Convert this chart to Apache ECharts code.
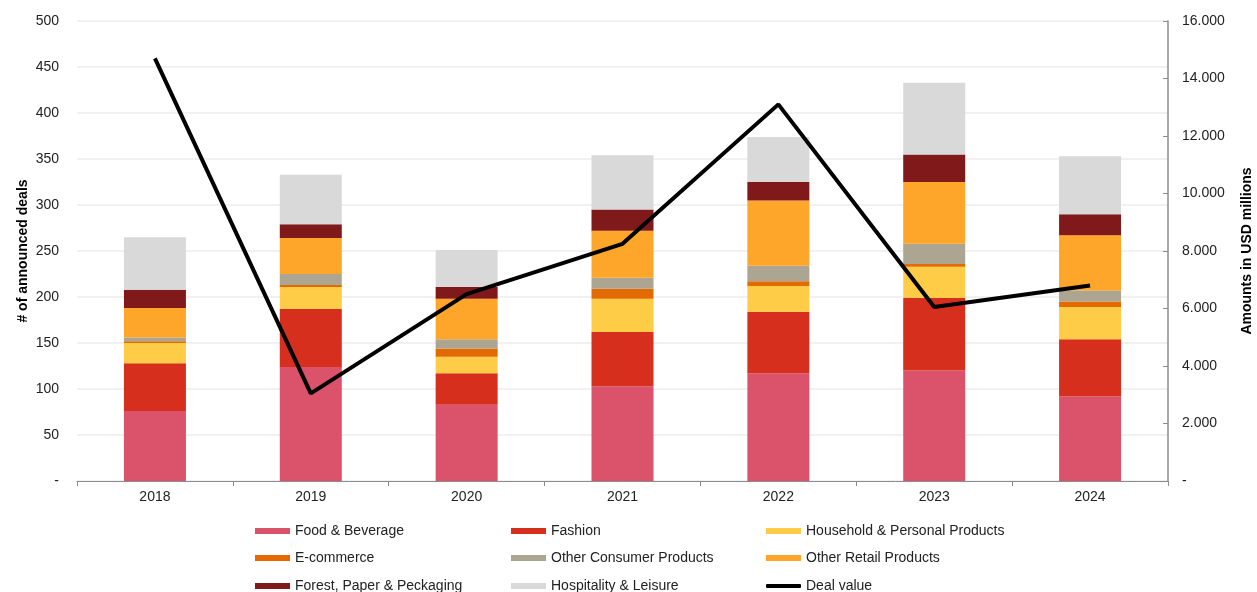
<!DOCTYPE html>
<html>
<head>
<meta charset="utf-8">
<script src="https://cdn.jsdelivr.net/npm/echarts@6/dist/echarts.min.js"></script>
<style>
html,body{margin:0;padding:0;background:#fff;}
#chart{width:1257px;height:592px;}
</style>
</head>
<body>
<div id="chart"></div>
<script>
const years = ['2018','2019','2020','2021','2022','2023','2024'];
const foodBeverage   = [76, 124, 83, 103, 117, 120, 92];
const fashion        = [52, 63, 34, 59, 67, 79, 62];
const household      = [22, 24, 18, 36, 28, 34, 35];
const ecommerce      = [2, 2, 9, 11, 5, 3, 6];
const otherConsumer  = [4, 12, 10, 12, 17, 22, 12];
const otherRetail    = [32, 39, 44, 51, 71, 67, 60];
const forestPaper    = [20, 15, 13, 23, 20, 30, 23];
const hospitality    = [57, 54, 40, 59, 49, 78, 63];
const dealValue      = [14700, 3050, 6500, 8250, 13100, 6050, 6800];

const seriesNames = ['Food & Beverage','Fashion','Household & Personal Products','E-commerce','Other Consumer Products','Other Retail Products','Forest, Paper & Peckaging','Hospitality & Leisure'];
const seriesData = [foodBeverage, fashion, household, ecommerce, otherConsumer, otherRetail, forestPaper, hospitality];
const colors = ['#DB536A','#D72F1D','#FFCC47','#E36A00','#ABA591','#FDA62A','#801A1A','#D9D9D9'];
const legendGrid = [
  ['Food & Beverage','Fashion','Household & Personal Products'],
  ['E-commerce','Other Consumer Products','Other Retail Products'],
  ['Forest, Paper & Peckaging','Hospitality & Leisure','Deal value']
];

const FONT = '"Liberation Sans", Arial, sans-serif';
function thousands(v){ return v === 0 ? '-' : String(v).replace(/\B(?=(\d{3})+(?!\d))/g, '.'); }

const chart = echarts.init(document.getElementById('chart'), null, {renderer:'canvas'});

const series = seriesData.map((d,i)=>({
  name: seriesNames[i], type:'bar', stack:'deals', data:d, barWidth:62,
  itemStyle:{color:colors[i]}, emphasis:{disabled:true}
}));
series.push({
  name:'Deal value', type:'line', yAxisIndex:1, data:dealValue,
  symbol:'none', lineStyle:{color:'#000', width:4}, itemStyle:{color:'#000'}, z:10,
  emphasis:{disabled:true}
});

const colX = [255, 511, 766];
const rowTop = [524, 551, 579];
const legends = [];
legendGrid.forEach((row, r) => row.forEach((name, c) => {
  const isLine = name === 'Deal value';
  legends.push({
    left: colX[c], top: rowTop[r], padding: 0,
    data: [isLine ? {name, icon:'roundRect'} : {name, icon:'rect'}],
    itemWidth: 35, itemHeight: isLine ? 4 : 6, itemTextGap: 4,
    textStyle: {fontFamily: FONT, fontSize: 14, color: '#222'},
    selectedMode: false
  });
}));

chart.setOption({
  animation:false,
  textStyle:{fontFamily:FONT},
  grid:{left:77, right:89, top:21, bottom:111, containLabel:false, outerBoundsMode:'none'},
  legend: legends,
  xAxis:{
    type:'category', data:years,
    axisLine:{lineStyle:{color:'#8c8c8c', width:1}},
    axisTick:{show:true, length:5, lineStyle:{color:'#8c8c8c'}},
    axisLabel:{fontFamily:FONT, fontSize:14, color:'#222', margin:9}
  },
  yAxis:[
    {
      type:'value', min:0, max:500, interval:50,
      name:'# of announced deals', nameLocation:'middle', nameGap:47, nameMoveOverlap:false,
      nameTextStyle:{fontFamily:FONT, fontSize:14, fontWeight:'bold', color:'#000'},
      axisLine:{show:false}, axisTick:{show:false},
      axisLabel:{fontFamily:FONT, fontSize:14, color:'#222', margin:18, formatter:v=>v===0?'-':String(v)},
      splitLine:{lineStyle:{color:'#ededed', width:1.5}}
    },
    {
      type:'value', min:0, max:16000, interval:2000, position:'right',
      name:'Amounts in USD millions', nameLocation:'middle', nameGap:72, nameRotate:90,
      nameTextStyle:{fontFamily:FONT, fontSize:14, fontWeight:'bold', color:'#000'},
      axisLine:{show:true, lineStyle:{color:'#8c8c8c', width:1.5}},
      axisTick:{show:true, inside:true, length:5, lineStyle:{color:'#8c8c8c'}},
      axisLabel:{fontFamily:FONT, fontSize:14, color:'#222', margin:14, formatter:thousands},
      splitLine:{show:false}
    }
  ],
  series: series
});
</script>
</body>
</html>
